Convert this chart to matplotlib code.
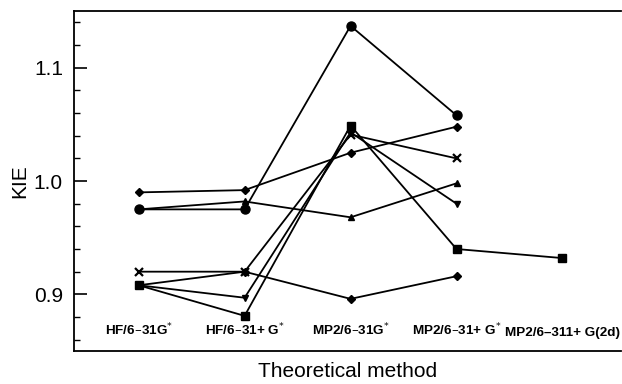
import matplotlib.pyplot as plt
from matplotlib.ticker import MultipleLocator

# theoretical methods (x positions 0..4)
methods = ['HF/6\u201331G$^{*}$', 'HF/6\u201331+ G$^{*}$', 'MP2/6\u201331G$^{*}$',
           'MP2/6\u201331+ G$^{*}$', 'MP2/6\u2013311+ G(2d)']

# KIE values per series
kie_circle = [0.975, 0.975, 1.137, 1.058]
kie_diamond_hi = [0.990, 0.992, 1.025, 1.048]
kie_tri_up = [0.975, 0.982, 0.968, 0.998]
kie_cross = [0.920, 0.920, 1.041, 1.020]
kie_square = [0.908, 0.881, 1.049, 0.940, 0.932]
kie_tri_down = [0.908, 0.897, 1.043, 0.980]
kie_diamond_lo = [0.908, 0.920, 0.896, 0.916]

series = [
    (kie_circle, 'o', 6.5),
    (kie_diamond_hi, 'D', 4),
    (kie_tri_up, '^', 5),
    (kie_cross, 'x', 6),
    (kie_square, 's', 6),
    (kie_tri_down, 'v', 5),
    (kie_diamond_lo, 'D', 4),
]

plt.rcParams['font.family'] = ['Liberation Sans', 'DejaVu Sans']

fig = plt.figure(figsize=(6.22, 3.84), dpi=100)
ax = fig.add_axes([0.119, 0.086, 0.879, 0.885])

for vals, m, ms in series:
    ax.plot(range(len(vals)), vals, color='black', lw=1.3, marker=m,
            markersize=ms, markeredgewidth=1.6 if m == 'x' else 1)

for i, lab in enumerate(methods):
    ax.text(i, 0.861, lab, ha='center', va='bottom', fontsize=9.7, fontweight='bold')

ax.set_xlim(-0.61, 4.55)
ax.set_ylim(0.85, 1.15)
ax.set_xticks([])
ax.yaxis.set_minor_locator(MultipleLocator(0.02))
ax.set_yticks([0.9, 1.0, 1.1])
ax.set_yticklabels(['0.9', '1.0', '1.1'], fontsize=15)
ax.tick_params(axis='y', which='major', direction='in', length=9, width=1.2, pad=8)
ax.tick_params(axis='y', which='minor', direction='in', length=4, width=1.0)
ax.spines['right'].set_visible(False)
for s in ['left', 'top', 'bottom']:
    ax.spines[s].set_linewidth(1.3)

ax.set_ylabel('KIE', fontsize=15, labelpad=3)
ax.set_xlabel('Theoretical method', fontsize=15, labelpad=8)

fig.savefig('out.png', dpi=100)
